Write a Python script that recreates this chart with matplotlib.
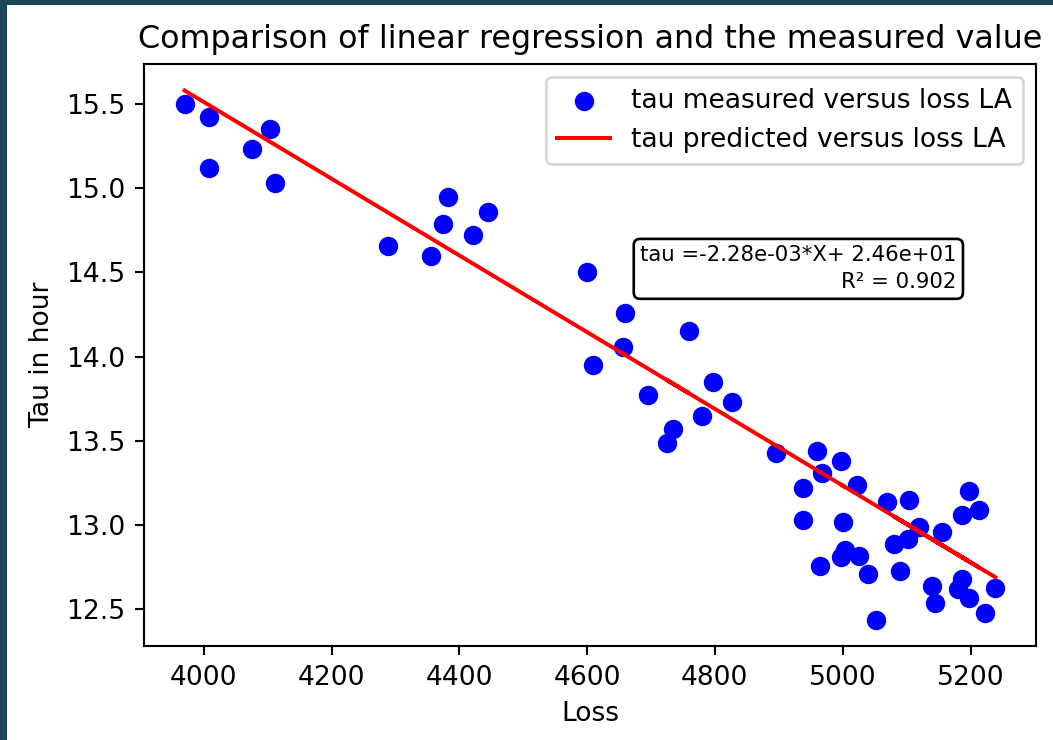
import matplotlib
matplotlib.use("Agg")
import matplotlib.pyplot as plt
from matplotlib.patches import Rectangle
import numpy as np

loss = [3970, 4008, 4008, 4075, 4103, 4112,
        4288, 4355, 4375, 4383, 4422, 4445,
        4600, 4609, 4659, 4656, 4695, 4759, 4725, 4734, 4780, 4797, 4827,
        4895, 4938, 4938, 4959, 4967, 4964, 4998, 5000, 5003, 4997, 5022,
        5025, 5039, 5052, 5069, 5103, 5081, 5102, 5119, 5156, 5089, 5197,
        5186, 5214, 5186, 5180, 5197, 5139, 5144, 5222, 5239]
tau = [15.50, 15.42, 15.12, 15.23, 15.35, 15.03,
       14.66, 14.60, 14.79, 14.95, 14.72, 14.86,
       14.50, 13.95, 14.26, 14.06, 13.77, 14.15, 13.49, 13.57, 13.65, 13.85, 13.73,
       13.43, 13.22, 13.03, 13.44, 13.31, 12.76, 13.38, 13.02, 12.85, 12.81, 13.24,
       12.82, 12.71, 12.44, 13.14, 13.15, 12.89, 12.92, 12.99, 12.96, 12.73, 13.20,
       13.06, 13.09, 12.68, 12.62, 12.57, 12.64, 12.54, 12.48, 12.63]

slope = -2.277e-3
intercept = 24.62
r2 = 0.902

title = "Comparison of linear regression and the measured value"
xlabel = "Loss"
ylabel = "Tau in hour"
label_meas = "tau measured versus loss LA"
label_pred = "tau predicted versus loss LA"

W, H = 1053, 740
dpi = 72 * 2.65
fig = plt.figure(figsize=(W / dpi, H / dpi), dpi=dpi)
fig.patch.set_facecolor("#1b4654")
fig.add_artist(Rectangle((7 / W, 0), 1 - 7 / W, 1 - 5 / H, transform=fig.transFigure,
                         facecolor="white", edgecolor="none", zorder=-1))

ax = fig.add_axes([144 / W, 1 - 646 / H, (1036 - 144) / W, (646 - 64) / H])

x = np.array(loss)
pred = slope * x + intercept
ax.scatter(x, tau, color="blue", s=40, label=label_meas)
ax.plot(x, pred, color="red", label=label_pred)

ax.set_title(title)
ax.set_xlabel(xlabel)
ax.set_ylabel(ylabel)
ax.legend(loc="upper right")

txt = f"tau ={slope:.2e}*X+ {intercept:.2e}\nR² = {r2:.3f}"
ax.text(0.911, 0.648, txt, transform=ax.transAxes, ha="right", va="center",
        multialignment="right", fontsize=8, linespacing=1.45,
        bbox=dict(boxstyle="round", facecolor="white", edgecolor="black"))

fig.savefig("out.png", dpi=dpi)
